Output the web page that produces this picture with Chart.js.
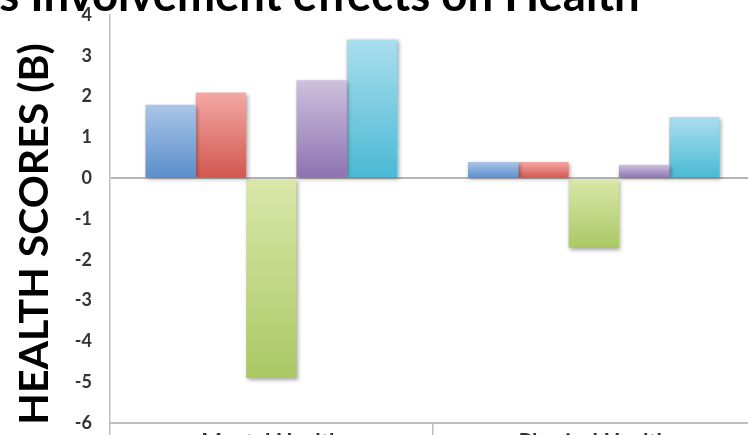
<!DOCTYPE html>
<html>
<head>
<meta charset="utf-8">
<script src="https://cdn.jsdelivr.net/npm/chart.js@4.4.1/dist/chart.umd.min.js"></script>
<style>
  html, body { margin: 0; padding: 0; background: #fff; overflow: hidden; width: 748px; height: 435px; }
  #wrap { position: absolute; left: -163px; top: -40px; width: 923px; height: 508px; }
</style>
</head>
<body>
<div id="wrap"><canvas id="healthChart"></canvas></div>
<script>
// Chart data
const categories = ['Mental Health', 'Physical Health'];
const seriesNames = ['Series 1', 'Series 2', 'Series 3', 'Series 4', 'Series 5'];
const series1 = [1.8, 0.4];
const series2 = [2.1, 0.4];
const series3 = [-4.9, -1.7];
const series4 = [2.4, 0.33];
const series5 = [3.4, 1.5];
const yTicks = { min: -6, max: 4, step: 1 };

// top / bottom colours of each bar's gradient
const fills = [
  ['#aac5e7', '#5a8ecb'],
  ['#f4a8a5', '#d1574f'],
  ['#dae7aa', '#aac964'],
  ['#cec0df', '#8d73b0'],
  ['#aadeee', '#4ab9d4']
];

// gradient running from the top of each bar to its bottom
function barFill(top, bottom) {
  return ctx => {
    const chart = ctx.chart;
    const y = chart.scales && chart.scales.y;
    if (!chart.chartArea || !y || ctx.type !== 'data') return bottom;
    const v = ctx.raw;
    const p1 = y.getPixelForValue(Math.max(v, 0));
    const p2 = y.getPixelForValue(Math.min(v, 0));
    if (!isFinite(p1) || !isFinite(p2) || p1 === p2) return bottom;
    const g = chart.ctx.createLinearGradient(0, p1, 0, p2);
    g.addColorStop(0, top);
    g.addColorStop(1, bottom);
    return g;
  };
}

// soft drop shadow under the bars, like the office chart
const barShadow = {
  id: 'barShadow',
  beforeDatasetsDraw(chart) {
    const c = chart.ctx;
    c.save();
    c.shadowColor = 'rgba(0,0,0,0.35)';
    c.shadowBlur = 4;
    c.shadowOffsetX = 1.5;
    c.shadowOffsetY = 2;
  },
  afterDatasetsDraw(chart) {
    chart.ctx.restore();
  }
};

const OFFSET_X = 163;   // part of the canvas left of the window
const values = [series1, series2, series3, series4, series5];

new Chart(document.getElementById('healthChart'), {
  type: 'bar',
  data: {
    labels: categories,
    datasets: values.map((vals, i) => ({
      label: seriesNames[i],
      data: vals,
      backgroundColor: barFill(fills[i][0], fills[i][1]),
      borderWidth: 0,
      categoryPercentage: 0.78,
      barPercentage: 1
    }))
  },
  plugins: [barShadow],
  options: {
    responsive: true,
    maintainAspectRatio: false,
    animation: false,
    layout: { padding: { left: 0, right: 5, top: 0, bottom: 0 } },
    plugins: {
      legend: { display: false },
      tooltip: { enabled: false },
      title: {
        display: true,
        text: 'Religious Involvement effects on Health',
        align: 'start',
        color: '#000',
        font: { family: 'Lato', size: 45.5, weight: 'bold', lineHeight: 1 },
        padding: { top: 14, bottom: -4.5 }
      }
    },
    scales: {
      x: {
        afterFit: s => { s.height = 45; },
        grid: {
          offset: true,
          drawOnChartArea: false,
          drawTicks: true,
          tickLength: 14,
          color: '#bfbfbf',
          lineWidth: 1.5
        },
        border: { color: '#bfbfbf', width: 2 },
        ticks: {
          color: '#333',
          padding: -7.5,
          font: { family: 'Lato', size: 22, weight: 'bold' }
        }
      },
      y: {
        min: yTicks.min,
        max: yTicks.max,
        afterFit: s => { s.width = OFFSET_X + 110; },
        grid: {
          drawTicks: false,
          color: c => (c.tick && c.tick.value === 0 ? '#b5b5b5' : 'rgba(0,0,0,0)'),
          lineWidth: 2
        },
        border: { color: '#bfbfbf', width: 1.5 },
        ticks: {
          stepSize: yTicks.step,
          padding: 18,
          color: '#333',
          font: { family: 'Lato', size: 18, weight: 'bold' }
        },
        title: {
          display: true,
          text: 'HEALTH SCORES (B)   ',
          color: '#000',
          font: { family: 'Lato', size: 41, weight: 'bold', lineHeight: 1 },
          padding: { top: OFFSET_X + 14, bottom: 0 }
        }
      }
    }
  }
});
</script>
</body>
</html>
